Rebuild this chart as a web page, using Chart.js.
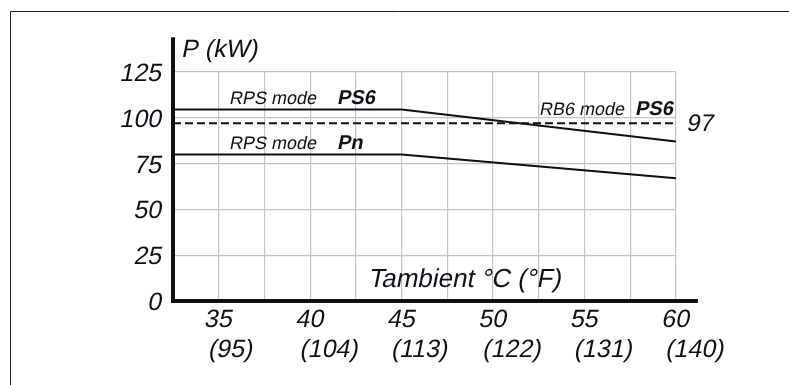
<!DOCTYPE html>
<html>
<head>
<meta charset="utf-8">
<script src="https://cdn.jsdelivr.net/npm/chart.js@4/dist/chart.umd.min.js"></script>
<style>
  html, body { margin: 0; padding: 0; background: #fff; }
  #wrap { position: relative; width: 789px; height: 385px; }
</style>
</head>
<body>
<div id="wrap"><canvas id="powerChart"></canvas></div>
<script>
// Derating of P (kW) against ambient temperature
const tempC = [32.5, 45, 60];
const rpsPs6 = [104.5, 104.5, 87];
const rpsPn = [80, 80, 67];
const rb6Temp = [32.5, 60];
const rb6Ps6 = [97, 97];

const cTicks = [35, 40, 45, 50, 55, 60];
const fTicks = ['(95)', '(104)', '(113)', '(122)', '(131)', '(140)'];
const yTicks = [0, 25, 50, 75, 100, 125];

const ink = '#110e18';
const FONT = '"Liberation Sans", Arial, sans-serif';

const pts = (xs, ys) => xs.map((v, i) => ({ x: v, y: ys[i] }));

// slanted text (the italic face is not picked up, so skew it by hand)
function say(ctx, txt, px, py, font, align, base) {
    ctx.save();
    ctx.font = font;
    ctx.textAlign = align || 'left';
    ctx.textBaseline = base || 'alphabetic';
    ctx.translate(px, py);
    ctx.transform(1, 0, -0.2, 1, 0, 0);
    ctx.fillText(txt, 0, 0);
    ctx.restore();
}

const overlay = {
    id: 'overlay',
    beforeDraw(chart) {
        const ctx = chart.ctx;
        ctx.save();
        ctx.strokeStyle = '#222';
        ctx.lineWidth = 1;
        ctx.beginPath();
        ctx.moveTo(10.5, 385);
        ctx.lineTo(10.5, 11.5);
        ctx.lineTo(789, 11.5);
        ctx.stroke();
        ctx.restore();
    },
    afterDraw(chart) {
        const { ctx, scales: { x, y } } = chart;
        const x0 = x.getPixelForValue(32.5);
        const y0 = y.getPixelForValue(0);
        ctx.save();

        // axes
        ctx.strokeStyle = ink;
        ctx.lineWidth = 4;
        ctx.beginPath();
        ctx.moveTo(x0, y.getPixelForValue(144));
        ctx.lineTo(x0, y0 + 2);
        ctx.moveTo(x0 - 2, y0);
        ctx.lineTo(x.getPixelForValue(61.2), y0);
        ctx.stroke();
        ctx.fillStyle = ink;

        const big = '25px ' + FONT;
        // y tick labels
        yTicks.forEach(v => say(ctx, String(v), x0 - 12, y.getPixelForValue(v) + 9, big, 'right'));

        // x tick labels, °C over °F
        cTicks.forEach((c, i) => {
            const px = x.getPixelForValue(c);
            say(ctx, String(c), px - 1, y0 + 26, big, 'center');
            say(ctx, fTicks[i], px - 11, y0 + 56, big, 'left');
        });

        // axis titles
        say(ctx, 'P (kW)', x0 + 8, 57, big);
        say(ctx, 'Tambient °C (°F)', 368, 287, '26px ' + FONT);

        // curve labels
        const small = '18px ' + FONT;
        const bold = 'bold 20px ' + FONT;
        say(ctx, 'RPS mode', 229, 104, small);
        say(ctx, 'PS6', 337, 104, bold);
        say(ctx, 'RPS mode', 229, 149, small);
        say(ctx, 'Pn', 337, 149, bold);
        say(ctx, 'RB6 mode', 539, 115, small);
        say(ctx, 'PS6', 635, 115, bold);

        say(ctx, '97', 686, y.getPixelForValue(rb6Ps6[1]) + 8, '24px ' + FONT);
        ctx.restore();
    }
};

new Chart(document.getElementById('powerChart'), {
    type: 'line',
    data: {
        datasets: [{
            label: 'RPS mode PS6',
            data: pts(tempC, rpsPs6),
            borderColor: ink,
            borderWidth: 2,
            pointRadius: 0,
            tension: 0
        }, {
            label: 'RPS mode Pn',
            data: pts(tempC, rpsPn),
            borderColor: ink,
            borderWidth: 2,
            pointRadius: 0,
            tension: 0
        }, {
            label: 'RB6 mode PS6',
            data: pts(rb6Temp, rb6Ps6),
            borderColor: ink,
            borderWidth: 2,
            borderDash: [8, 4],
            pointRadius: 0,
            tension: 0
        }]
    },
    options: {
        responsive: true,
        maintainAspectRatio: false,
        animation: false,
        layout: { padding: { top: 72, right: 113, left: 0, bottom: 0 } },
        plugins: {
            legend: { display: false },
            tooltip: { enabled: false }
        },
        scales: {
            x: {
                type: 'linear',
                min: 32.5,
                max: 60,
                border: { display: false },
                grid: { color: '#c4c4c4', lineWidth: 1.2, drawTicks: false },
                ticks: { display: false, stepSize: 2.5 },
                afterFit: s => { s.height = 84; }
            },
            y: {
                min: 0,
                max: 125,
                border: { display: false },
                grid: { color: '#c4c4c4', lineWidth: 1.2, drawTicks: false },
                afterBuildTicks: s => { s.ticks = yTicks.map(v => ({ value: v })); },
                ticks: { display: false },
                afterFit: s => { s.width = 173; }
            }
        }
    },
    plugins: [overlay]
});
</script>
</body>
</html>
